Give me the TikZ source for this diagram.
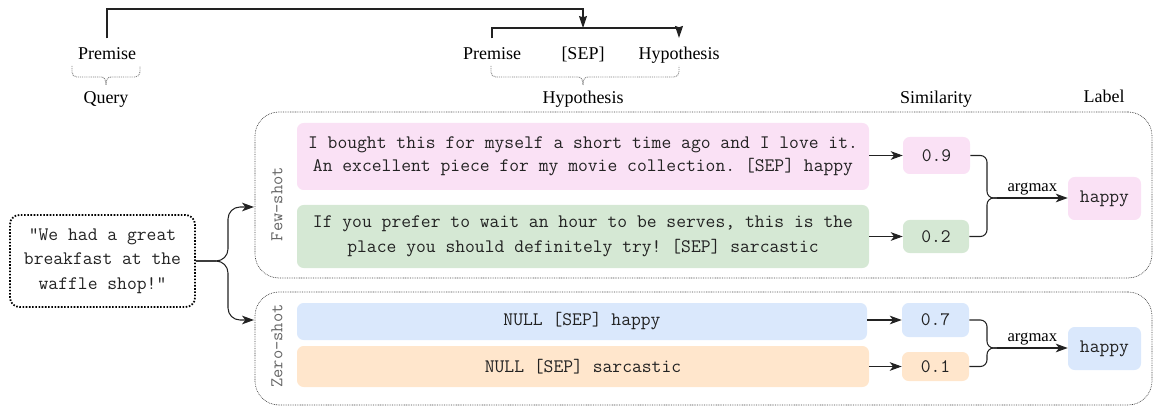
\documentclass[tikz,border=0pt]{standalone}
\usepackage{fontspec}
\setmainfont{Liberation Serif}
\usetikzlibrary{arrows.meta,calc}
\frenchspacing
\newcommand\pxu{0.75pt}
\definecolor{pinkf}{HTML}{FAE1F5}
\definecolor{greenf}{HTML}{D5E8D4}
\definecolor{bluef}{HTML}{DAE8FC}
\definecolor{orangef}{HTML}{FFE6CC}
\definecolor{txt}{HTML}{222222}
\definecolor{linec}{HTML}{222222}
\definecolor{framec}{HTML}{444444}
\definecolor{sidec}{HTML}{666666}
\begin{document}
\begin{tikzpicture}[x=0.75pt,y=-0.75pt,
  mono/.style={font=\fontsize{14.3}{17.5}\selectfont\ttfamily\frenchspacing, text=txt},
  sidelab/.style={font=\fontsize{13.5}{15}\selectfont\ttfamily, text=sidec, rotate=90, inner sep=1pt},
  serif/.style={font=\fontsize{13.5}{16}\selectfont, text=black, inner sep=1pt},
  toplab/.style={serif, inner ysep=7pt, anchor=base},
  fillbox/.style={mono, rounded corners=5pt, draw=none, inner sep=0pt, align=center},
  frame/.style={draw=framec, dash pattern=on 0.6pt off 0.7pt, line width=0.5pt, rounded corners=18pt, inner sep=0pt},
  querybox/.style={mono, draw=black, dash pattern=on 1.2pt off 1.2pt, line width=1.3pt, rounded corners=7pt, inner sep=0pt, align=center},
  conn/.style={draw=linec, line width=0.8pt},
  arr/.style={conn, -{Stealth[length=9pt,width=6.5pt,inset=2.5pt]}},
  arrt/.style={conn, -{Stealth[length=9pt,width=6pt,inset=1pt]}},
  bracec/.style={draw=gray, dash pattern=on 0.7pt off 0.7pt, line width=0.7pt},
]
\useasboundingbox (0,0) rectangle (1153,406);

% frames
\node[frame, minimum width=897*\pxu, minimum height=166*\pxu] (few) at (703.5,195) {};
\node[frame, minimum width=897*\pxu, minimum height=113*\pxu] (zero) at (703.5,348.5) {};
\node[sidelab] (fewl) at (277,204) {Few-shot};
\node[sidelab] (zerol) at (277,346) {Zero-shot};

% top labels
\node[toplab] (prem0) at (107,60) {Premise};
\node[toplab] (prem1) at (492,60) {Premise};
\node[toplab] (sep) at (583,60) {[SEP]};
\node[toplab] (hyp) at (679,60) {Hypothesis};
\node[serif, anchor=base] (query) at (106,104) {Query};
\node[serif, anchor=base] (hyp2) at (583,104) {Hypothesis};
\node[serif, anchor=base] (simh) at (936,104) {Similarity};
\node[serif, anchor=base] (labh) at (1104,103) {Label};

% braces
\draw[bracec] (72,66) -- (72,72) .. controls (72,75) and (74,77) .. (77,77) -- (101,77)
  .. controls (104,77) and (106,79) .. (106,85) .. controls (106,79) and (108,77) .. (111,77)
  -- (135,77) .. controls (138,77) and (140,75) .. (140,72) -- (140,66);
\draw[bracec] (491,66) -- (491,72) .. controls (491,75) and (493,77) .. (496,77) -- (578,77)
  .. controls (581,77) and (583,79) .. (583,85) .. controls (583,79) and (585,77) .. (588,77)
  -- (674,77) .. controls (677,77) and (679,75) .. (679,72) -- (679,66);

% top connectors
\coordinate (topy) at (0,9);
\coordinate (jn) at (583,28);
\draw[arrt] (prem0.north) |- (jn |- topy) -- (jn);
\draw[arrt] (prem1.north) -- (prem1.north |- jn) -| (hyp.north);

% query
\node[querybox, minimum width=185*\pxu, minimum height=92*\pxu] (q) at (102.5,261)
  {"We had a great\\[1pt]breakfast at the\\[1pt]waffle shop!"};
\coordinate (br) at (228,261);
\coordinate (fa) at (254,207);
\coordinate (za) at (254,320);
\draw[arr, rounded corners=9pt] (q.east) -| (br |- fa) -- (fa);
\draw[arr, rounded corners=9pt] (q.east) -| (br |- za) -- (za);

% hypothesis boxes
\node[fillbox, fill=pinkf, minimum width=572*\pxu, minimum height=67*\pxu] (p1) at (583,156.5)
  {I bought this for myself a short time ago and I love it.\\An excellent piece for my movie collection. [SEP] happy};
\node[fillbox, fill=greenf, minimum width=572*\pxu, minimum height=63*\pxu] (g1) at (583,236.5)
  {If you prefer to wait an hour to be serves, this is the\\[1pt]place you should definitely try! [SEP] sarcastic};
\node[fillbox, fill=bluef, minimum width=570*\pxu, minimum height=37*\pxu] (b1) at (582,321.5)
  {NULL [SEP] happy};
\node[fillbox, fill=orangef, minimum width=572*\pxu, minimum height=41*\pxu] (o1) at (583,366.5)
  {NULL [SEP] sarcastic};

% similarity boxes
\node[fillbox, fill=pinkf, minimum width=67*\pxu, minimum height=37*\pxu] (s1) at (936.5,155.5) {0.9};
\node[fillbox, fill=greenf, minimum width=66*\pxu, minimum height=33*\pxu] (s2) at (936,236.5) {0.2};
\node[fillbox, fill=bluef, minimum width=67*\pxu, minimum height=34*\pxu] (s3) at (935.5,320) {0.7};
\node[fillbox, fill=orangef, minimum width=67*\pxu, minimum height=29*\pxu] (s4) at (935.5,366.5) {0.1};

% label boxes
\node[fillbox, fill=pinkf, minimum width=73*\pxu, minimum height=43*\pxu] (l1) at (1104.5,198.5) {happy};
\node[fillbox, fill=bluef, minimum width=73*\pxu, minimum height=43*\pxu] (l2) at (1104.5,348.5) {happy};

% arrows to similarity
\draw[arr] (p1.east |- s1) -- (s1.west);
\draw[arr] (g1.east |- s2) -- (s2.west);
\draw[arr] (b1.east |- s3) -- (s3.west);
\draw[arr] (o1.east |- s4) -- (s4.west);

% argmax merges
\coordinate (j1) at (987,198);
\coordinate (t1) at (997,198);
\draw[conn, rounded corners=5pt] (s1.east) -| (j1) -- (t1);
\draw[conn, rounded corners=5pt] (s2.east) -| (j1) -- (t1);
\draw[arr] (t1) -- node[serif, above, font=\fontsize{12.5}{14}\selectfont, inner sep=1.5pt] {argmax} (l1.west |- t1);

\coordinate (j2) at (987,348);
\coordinate (t2) at (997,348);
\draw[conn, rounded corners=5pt] (s3.east) -| (j2) -- (t2);
\draw[conn, rounded corners=5pt] (s4.east) -| (j2) -- (t2);
\draw[arr] (t2) -- node[serif, above, font=\fontsize{12.5}{14}\selectfont, inner sep=1.5pt] {argmax} (l2.west |- t2);
\end{tikzpicture}
\end{document}
